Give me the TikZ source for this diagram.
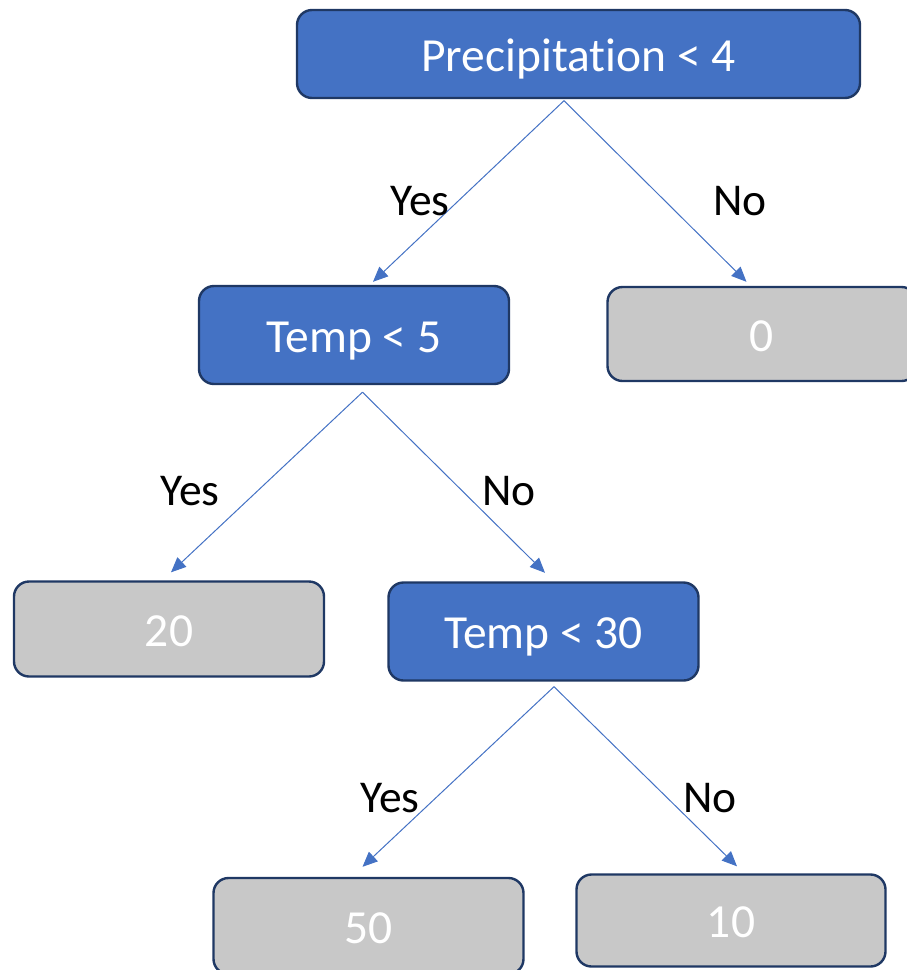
\documentclass[tikz,border=0pt]{standalone}
\usepackage{fontspec}
\setmainfont[Ligatures=NoCommon]{Carlito}
\usetikzlibrary{arrows.meta,calc}
\definecolor{nodeblue}{HTML}{4472C4}
\definecolor{navy}{HTML}{1F3864}
\definecolor{leafgray}{HTML}{C8C8C8}
\tikzset{
  box/.style={rectangle, rounded corners=15pt, draw=navy, line width=2.4pt,
    inner sep=0pt, text=white, text height=34pt, text depth=0pt,
    font=\fontsize{47.5}{52}\selectfont},
  split/.style={box, fill=nodeblue},
  leaf/.style={box, fill=leafgray},
  conn/.style={draw=nodeblue, line width=1pt, -{Triangle[length=15pt,width=13pt]}},
  lbl/.style={inner sep=0pt, text=black, font=\fontsize{45.5}{50}\selectfont}
}
\begin{document}
\begin{tikzpicture}[x=1pt,y=-1pt]
\useasboundingbox (0,0) rectangle (907,970);
% nodes
\node[split, minimum width=563pt, minimum height=88pt] (root) at (578.5,54) {Precipitation < 4};
\node[split, minimum width=310pt, minimum height=98pt] (t5) at (354,335) {Temp < 5};
\node[leaf, minimum width=309pt, minimum height=94pt] (zero) at (762,334) {0};
\node[leaf, minimum width=310pt, minimum height=95pt] (twenty) at (169,629) {20};
\node[split, minimum width=310pt, minimum height=98pt] (t30) at (543.5,631.5) {Temp < 30};
\node[leaf, minimum width=310pt, minimum height=96pt] (fifty) at (368.5,926) {50};
\node[leaf, minimum width=309pt, minimum height=92pt] (ten) at (731,920.5) {10};
% connector end points
\coordinate (rootout) at ($(root.south)+(-14.5,1.5)$);
\coordinate (t5in) at ($(t5.north)+(19,-3)$);
\coordinate (zeroin) at ($(zero.north)+(-15.5,-4)$);
\coordinate (t5out) at ($(t5.south)+(8.5,7)$);
\coordinate (twentyin) at ($(twenty.north)+(2,-8)$);
\coordinate (t30in) at ($(t30.north)+(1.5,-8.5)$);
\coordinate (t30out) at ($(t30.south)+(10.5,5)$);
\coordinate (fiftyin) at ($(fifty.north)+(-6,-10)$);
\coordinate (tenin) at ($(ten.north)+(6,-7)$);
% connectors
\draw[conn] (rootout) -- (t5in);
\draw[conn] (rootout) -- (zeroin);
\draw[conn] (t5out) -- (twentyin);
\draw[conn] (t5out) -- (t30in);
\draw[conn] (t30out) -- (fiftyin);
\draw[conn] (t30out) -- (tenin);
% labels
\node[lbl] (y1) at (420,201) {Yes};
\node[lbl] (n1) at (740,201) {No};
\node[lbl] (y2) at (190,491) {Yes};
\node[lbl] (n2) at (509,491) {No};
\node[lbl] (y3) at (390,798) {Yes};
\node[lbl] (n3) at (710,798) {No};
\end{tikzpicture}
\end{document}
